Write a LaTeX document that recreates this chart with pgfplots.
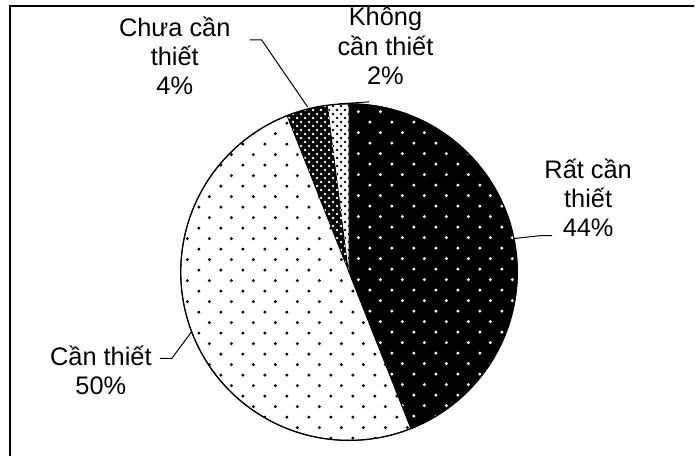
\documentclass[border=0pt]{standalone}
\usepackage{fontspec}
\setmainfont{Liberation Sans}
\usepackage{pgfplots}
\usepackage{pgfplotstable}
\pgfplotsset{compat=1.18}
\usetikzlibrary{patterns}

% dot patterns like the Excel fills
\pgfdeclarepatternformonly{sparse dots}{\pgfpointorigin}{\pgfqpoint{21.5bp}{21.5bp}}{\pgfqpoint{21.5bp}{21.5bp}}{%
  \pgfpathcircle{\pgfqpoint{5bp}{5bp}}{1.7bp}%
  \pgfpathcircle{\pgfqpoint{15.75bp}{15.75bp}}{1.7bp}%
  \pgfusepath{fill}}
\pgfdeclarepatternformonly{dense dots}{\pgfpointorigin}{\pgfqpoint{8bp}{8bp}}{\pgfqpoint{8bp}{8bp}}{%
  \pgfpathcircle{\pgfqpoint{2bp}{2bp}}{1.3bp}%
  \pgfpathcircle{\pgfqpoint{6bp}{6bp}}{1.3bp}%
  \pgfusepath{fill}}

\pgfplotstableread[col sep=comma]{
label,value
Rất cần thiết,44
Cần thiết,50
Chưa cần thiết,4
Không cần thiết,2
}\piedata

\pgfplotstablegetelem{0}{value}\of\piedata \let\va\pgfplotsretval
\pgfplotstablegetelem{1}{value}\of\piedata \let\vb\pgfplotsretval
\pgfplotstablegetelem{2}{value}\of\piedata \let\vc\pgfplotsretval
\pgfplotstablegetelem{3}{value}\of\piedata \let\vd\pgfplotsretval
\pgfmathsetmacro\aA{90}
\pgfmathsetmacro\aB{\aA-3.6*\va}
\pgfmathsetmacro\aC{\aB-3.6*\vb}
\pgfmathsetmacro\aD{\aC-3.6*\vc}
\pgfmathsetmacro\aE{\aD-3.6*\vd}

\newcommand\sector[2]{(axis cs:349.5,184.5) -- ++(#1:168.5bp) arc[start angle=#1,end angle=#2,radius=168.5bp] -- cycle}

\begin{document}
\begin{tikzpicture}
\begin{axis}[
    scale only axis,
    width=695bp, height=457bp,
    xmin=0, xmax=695, ymin=0, ymax=457,
    hide axis, clip=false,
]
\path (axis cs:0,0) (axis cs:695,457);
% frame (only top and left edges are in view)
\draw[line width=2bp] (axis cs:695,451) -- (axis cs:10,451) -- (axis cs:10,0);

% sectors
\path[fill=black, postaction={pattern=sparse dots, pattern color=white}] \sector{\aA}{\aB};
\path[fill=white, postaction={pattern=sparse dots, pattern color=black}] \sector{\aB}{\aC};
\path[fill=black, postaction={pattern=dense dots, pattern color=white}] \sector{\aC}{\aD};
\path[fill=white, postaction={pattern=dense dots, pattern color=black}] \sector{\aD}{\aE};
\draw[line width=0.8bp] \sector{\aA}{\aB};
\draw[line width=0.8bp] \sector{\aB}{\aC};
\draw[line width=1.3bp] (axis cs:349.5,184.5) circle[radius=168.5bp];

% leader lines
\draw[line width=1bp] (axis cs:250,417) -- (axis cs:262,417) -- (axis cs:308,350);
\draw[line width=1bp] (axis cs:339,353) -- (axis cs:370,355);
\draw[line width=1bp] (axis cs:553,221) -- (axis cs:541,221) -- (axis cs:514,218);
\draw[line width=1bp] (axis cs:160,98) -- (axis cs:172,98) -- (axis cs:192,125);

% labels
\tikzset{lab/.style={align=center, inner sep=0pt, font=\fontsize{25.5}{29.5}\selectfont}}
\node[lab] at (axis cs:175,401) {Chưa cần\\thiết\\4\%};
\node[lab] at (axis cs:386,411) {Không\\cần thiết\\2\%};
\node[lab] at (axis cs:589,259) {Rất cần\\thiết\\44\%};
\node[lab] at (axis cs:101,86) {Cần thiết\\50\%};
\end{axis}
\end{tikzpicture}
\end{document}
